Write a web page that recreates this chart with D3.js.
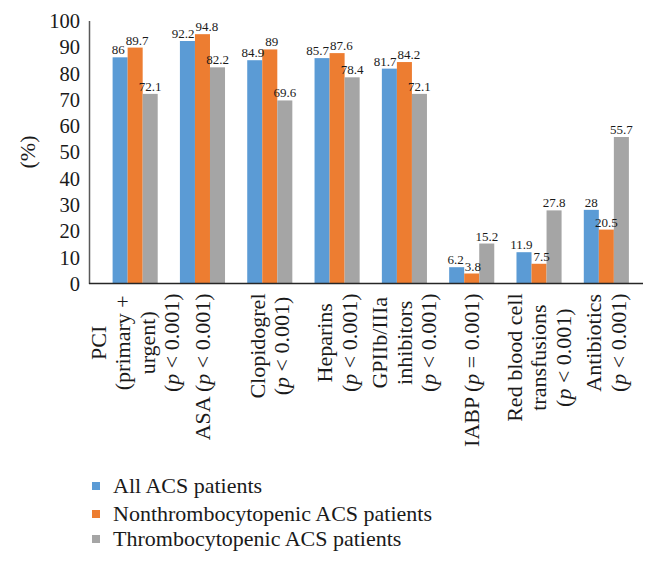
<!DOCTYPE html>
<html><head><meta charset="utf-8">
<script src="https://cdn.jsdelivr.net/npm/d3@7"></script>
<style>
body{margin:0;background:#fff;}
svg{display:block;}
svg text{font-family:'Liberation Serif','DejaVu Serif','Noto Serif',serif;fill:#1a1a1a;}
</style></head>
<body>
<svg id="chart" width="658" height="566"></svg>
<script>
const categories = [
  ["PCI","(primary +","urgent)","(p < 0.001)"],
  ["ASA (p < 0.001)"],
  ["Clopidogrel","(p < 0.001)"],
  ["Heparins","(p < 0.001)"],
  ["GPIIb/IIIa","inhibitors","(p < 0.001)"],
  ["IABP (p = 0.001)"],
  ["Red blood cell","transfusions","(p < 0.001)"],
  ["Antibiotics","(p < 0.001)"]
];
const seriesNames = ["All ACS patients","Nonthrombocytopenic ACS patients","Thrombocytopenic ACS patients"];
const allACS = [86, 92.2, 84.9, 85.7, 81.7, 6.2, 11.9, 28];
const nonThrombo = [89.7, 94.8, 89, 87.6, 84.2, 3.8, 7.5, 20.5];
const thrombo = [72.1, 82.2, 69.6, 78.4, 72.1, 15.2, 27.8, 55.7];
const yTicks = [0,10,20,30,40,50,60,70,80,90,100];
const colors = ["#5B9BD5","#ED7D31","#A5A5A5"];

const FONT = "'Liberation Serif','DejaVu Serif','Noto Serif',serif";
const series = [allACS, nonThrombo, thrombo];
const svg = d3.select("#chart");
const y0 = 283.5, y1 = 20.5, xAxisStart = 89, xAxisEnd = 643;
const catIdx = d3.range(categories.length);

const y = d3.scaleLinear().domain([0,100]).range([y0,y1]);
const x = d3.scaleBand().domain(catIdx).range([101.5,640]).paddingInner(0.33).paddingOuter(0.165);
const xs = d3.scaleBand().domain([0,1,2]).range([0,x.bandwidth()]);

// y axis
const yAxis = d3.axisLeft(y).tickValues(yTicks).tickSize(0).tickPadding(9);
const gy = svg.append("g").attr("transform",`translate(${xAxisStart},0)`).call(yAxis);
gy.attr("font-family",FONT);
gy.select(".domain").attr("stroke","#595959").attr("stroke-width",1.5);
gy.selectAll("text").attr("font-size",20.5).attr("font-family",FONT).attr("fill","#1a1a1a").attr("dy","0.34em");

// bars
catIdx.forEach(i=>{
  const g = svg.append("g").attr("transform",`translate(${x(i)},0)`);
  series.forEach((s,j)=>{
    g.append("rect").attr("x",xs(j)).attr("width",xs.bandwidth())
      .attr("y",y(s[i])).attr("height",y0-y(s[i])).attr("fill",colors[j]);
  });
});

// x axis line
svg.append("line").attr("x1",xAxisStart).attr("x2",xAxisEnd).attr("y1",y0).attr("y2",y0)
  .attr("stroke","#262626").attr("stroke-width",1.5);

// value labels with simple collision push within a group
catIdx.forEach(i=>{
  const labs = series.map((s,j)=>{
    const t = svg.append("text").attr("text-anchor","middle").attr("font-size",13)
      .attr("font-family",FONT).text(s[i]);
    const w = t.node().getComputedTextLength();
    return {t, cx: x(i)+xs(j)+xs.bandwidth()/2, y: y(s[i])-3, w};
  });
  for (let k=0;k<labs.length-1;k++){
    const a=labs[k], b=labs[k+1];
    if (Math.abs(a.y-b.y) < 12){
      const gap = (b.cx - b.w/2) - (a.cx + a.w/2);
      if (gap < 1){ const d=(1-gap)/2; a.cx-=d; b.cx+=d; }
    }
  }
  labs.forEach(l=>l.t.attr("x",l.cx).attr("y",l.y));
});

// category labels (rotated, top-aligned block, centered lines)
function addRich(t, str){
  const parts = str.split(/(\bp\b)/);
  parts.forEach(p=>{ if(!p) return; const ts=t.append("tspan").text(p); if(p==="p") ts.attr("font-style","italic"); });
}
const lh = 24.5;
catIdx.forEach(i=>{
  const lines = categories[i];
  const cx = x(i)+x.bandwidth()/2;
  const g = svg.append("g");
  const texts = lines.map((ln,k)=>{
    const t = g.append("text").attr("font-size",22).attr("font-family",FONT).attr("text-anchor","middle").attr("dy","0.33em");
    addRich(t, ln);
    return t;
  });
  const maxW = d3.max(texts, t=>t.node().getComputedTextLength());
  const cy = y0 + 10 + maxW/2;
  texts.forEach((t,k)=>{
    const px = cx + (k-(lines.length-1)/2)*lh;
    t.attr("transform",`translate(${px},${cy}) rotate(-90)`);
  });
});

// y axis title
svg.append("text").attr("transform","translate(28,152) rotate(-90)").attr("text-anchor","middle")
  .attr("dy","0.33em").attr("font-size",22).attr("font-family",FONT).text("(%)");

// legend
const legY = [486, 514, 539];
seriesNames.forEach((n,j)=>{
  svg.append("rect").attr("x",92).attr("y",legY[j]-4).attr("width",8).attr("height",8).attr("fill",colors[j]);
  svg.append("text").attr("x",113).attr("y",legY[j]).attr("dy","0.33em").attr("font-size",22).attr("font-family",FONT).text(n);
});
</script>
</body></html>
